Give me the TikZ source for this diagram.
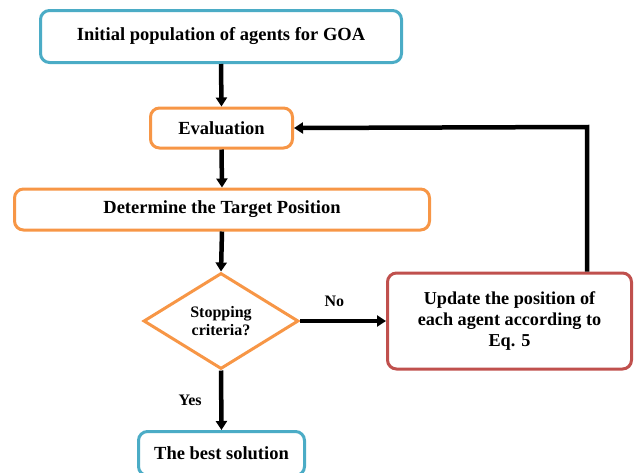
\documentclass[tikz,border=0pt]{standalone}
\usepackage{fontspec}
\setmainfont{Liberation Serif}
\usetikzlibrary{shapes.geometric,arrows.meta}
\definecolor{cblue}{HTML}{4BACC6}
\definecolor{corange}{HTML}{F79646}
\definecolor{cred}{HTML}{C0504D}
\tikzset{
  boxbase/.style={draw, line width=3pt, rounded corners=9pt, fill=white, align=center, inner sep=0pt},
  bluebox/.style={boxbase, draw=cblue},
  orangebox/.style={boxbase, draw=corange},
  redbox/.style={boxbase, draw=cred},
  bigtext/.style={font=\bfseries\fontsize{18.5}{21}\selectfont},
  conn/.style={line width=4.5pt, -{Triangle[length=9pt,width=11pt]}},
  lbl/.style={font=\bfseries\fontsize{16}{18}\selectfont}
}
\begin{document}
\begin{tikzpicture}[x=1pt,y=-1pt]
\useasboundingbox (0,0) rectangle (636,472);
\node[bluebox, bigtext, minimum width=361pt, minimum height=52pt] (init) at (221,36.5) {Initial population of agents for GOA};
\node[orangebox, bigtext, minimum width=142pt, minimum height=40pt] (eval) at (221.5,128) {Evaluation};
\node[orangebox, bigtext, minimum width=415pt, minimum height=41pt] (det) at (222,209.5) {Determine the Target Position};
\node[draw=corange, line width=3pt, diamond, aspect=1.6, minimum width=155pt, minimum height=96pt, inner sep=0pt, align=center, font=\bfseries\fontsize{16}{18}\selectfont] (stop) at (221,321) {Stopping\\criteria?};
\node[redbox, minimum width=244pt, minimum height=96pt, font=\bfseries\fontsize{18.2}{21}\selectfont] (upd) at (509.5,321) {Update the position of\\each agent according to\\Eq. 5};
\node[bluebox, bigtext, minimum width=166pt, minimum height=44pt] (best) at (221.5,453.5) {The best solution};
\draw[conn] (init.south) -- (eval.north);
\draw[conn] (eval.south) -- (det.north);
\draw[conn] (det.south) -- (stop.north);
\draw[conn] (stop.south) -- node[lbl, left=14pt, pos=0.5] {Yes} (best.north);
\draw[conn] (stop.east) -- node[lbl, above=9pt, pos=0.4] {No} (upd.west);
\coordinate (fbk) at (587,127);
\draw[conn] (upd.north -| fbk) -- (fbk) -- (eval.east);
\end{tikzpicture}
\end{document}
